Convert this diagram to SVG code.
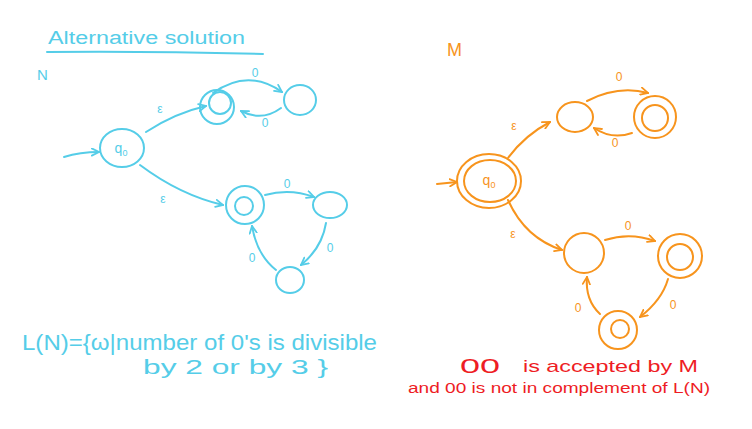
<svg xmlns="http://www.w3.org/2000/svg" width="752" height="429" viewBox="0 0 752 429">
<style>
.c{stroke:#55cde8;fill:none;stroke-width:2;stroke-linecap:round}
.o{stroke:#f7941d;fill:none;stroke-width:2;stroke-linecap:round}
.tc{fill:#55cde8;font-family:"Liberation Sans",sans-serif}
.to{fill:#f7941d;font-family:"Liberation Sans",sans-serif}
.tr{fill:#ee1c24;font-family:"Liberation Sans",sans-serif}
.lbl{font-size:12px;text-anchor:middle}
.q{font-size:14px;text-anchor:middle}
</style>
<defs>
<marker id="ac" viewBox="0 0 10 10" refX="9" refY="5" markerWidth="9" markerHeight="9" orient="auto" markerUnits="userSpaceOnUse"><path d="M1,1 L9,5 L1,9" fill="none" stroke="#55cde8" stroke-width="2" stroke-linecap="round"/></marker>
<marker id="ao" viewBox="0 0 10 10" refX="9" refY="5" markerWidth="9" markerHeight="9" orient="auto" markerUnits="userSpaceOnUse"><path d="M1,1 L9,5 L1,9" fill="none" stroke="#f7941d" stroke-width="2" stroke-linecap="round"/></marker>
</defs>
<rect width="752" height="429" fill="#ffffff"/>

<!-- Cyan: alternative solution N -->
<text class="tc" x="48" y="44" font-size="18" textLength="197" lengthAdjust="spacingAndGlyphs">Alternative solution</text>
<path class="c" d="M47,52 Q150,51 263,54"/>
<text class="tc" x="37" y="80" font-size="15">N</text>

<g id="N-q0"><ellipse class="c" cx="122" cy="148" rx="22" ry="19"/><text class="tc q" x="121" y="153">q<tspan font-size="9" dy="3">0</tspan></text></g>
<g id="N-a"><circle class="c" cx="217" cy="107" r="17"/><circle class="c" cx="220" cy="103" r="11"/></g>
<g id="N-b"><ellipse class="c" cx="300" cy="100" rx="16" ry="15"/></g>
<g id="N-c"><circle class="c" cx="245" cy="205" r="19"/><circle class="c" cx="244" cy="206" r="9"/></g>
<g id="N-d"><ellipse class="c" cx="330" cy="205" rx="17" ry="13"/></g>
<g id="N-e"><ellipse class="c" cx="290" cy="280" rx="14" ry="13"/></g>

<g id="N-connectors">
<path class="c" d="M64,157 Q80,152 99,152" marker-end="url(#ac)"/>
<path class="c" d="M146,132 Q175,113 206,106" marker-end="url(#ac)"/>
<path class="c" d="M213,93 Q248,68 282,92" marker-end="url(#ac)"/>
<path class="c" d="M281,108 Q262,122 241,111" marker-end="url(#ac)"/>
<path class="c" d="M140,165 Q180,195 223,205" marker-end="url(#ac)"/>
<path class="c" d="M265,195 Q290,188 314,197" marker-end="url(#ac)"/>
<path class="c" d="M326,223 Q322,248 301,265" marker-end="url(#ac)"/>
<path class="c" d="M276,270 Q257,255 252,226" marker-end="url(#ac)"/>
<text class="tc lbl" x="160" y="113">ε</text>
<text class="tc lbl" x="163" y="203">ε</text>
<text class="tc lbl" x="255" y="77">0</text>
<text class="tc lbl" x="265" y="127">0</text>
<text class="tc lbl" x="287" y="188">0</text>
<text class="tc lbl" x="330" y="252">0</text>
<text class="tc lbl" x="252" y="262">0</text>
</g>

<text class="tc" x="22" y="350" font-size="22" textLength="355" lengthAdjust="spacingAndGlyphs">L(N)={ω|number of 0's is divisible</text>
<text class="tc" x="143" y="374" font-size="20" textLength="185" lengthAdjust="spacingAndGlyphs">by 2 or by 3 }</text>

<!-- Orange: M -->
<text class="to" x="447" y="56" font-size="18">M</text>

<g id="M-q0"><ellipse class="o" cx="489" cy="181" rx="32" ry="27"/><ellipse class="o" cx="490" cy="181" rx="26" ry="21"/><text class="to q" x="489" y="185">q<tspan font-size="9" dy="3">0</tspan></text></g>
<g id="M-f"><ellipse class="o" cx="575" cy="117" rx="18" ry="15"/></g>
<g id="M-g"><circle class="o" cx="655" cy="117" r="21"/><circle class="o" cx="655" cy="118" r="13"/></g>
<g id="M-h"><circle class="o" cx="584" cy="253" r="20"/></g>
<g id="M-i"><circle class="o" cx="680" cy="256" r="22"/><circle class="o" cx="680" cy="257" r="13"/></g>
<g id="M-j"><circle class="o" cx="618" cy="330" r="19"/><circle class="o" cx="620" cy="329" r="9"/></g>

<g id="M-connectors">
<path class="o" d="M437,184 L457,182" marker-end="url(#ao)"/>
<path class="o" d="M508,158 Q525,135 550,122" marker-end="url(#ao)"/>
<path class="o" d="M587,101 Q618,85 648,93" marker-end="url(#ao)"/>
<path class="o" d="M632,133 Q612,140 594,128" marker-end="url(#ao)"/>
<path class="o" d="M508,200 Q525,238 562,250" marker-end="url(#ao)"/>
<path class="o" d="M605,240 Q630,232 655,241" marker-end="url(#ao)"/>
<path class="o" d="M668,279 Q662,300 640,317" marker-end="url(#ao)"/>
<path class="o" d="M600,314 Q585,300 587,277" marker-end="url(#ao)"/>
<text class="to lbl" x="514" y="130">ε</text>
<text class="to lbl" x="513" y="238">ε</text>
<text class="to lbl" x="619" y="81">0</text>
<text class="to lbl" x="615" y="147">0</text>
<text class="to lbl" x="628" y="230">0</text>
<text class="to lbl" x="673" y="309">0</text>
<text class="to lbl" x="578" y="312">0</text>
</g>

<!-- Red notes -->
<text class="tr" x="460" y="373" font-size="20" textLength="40" lengthAdjust="spacingAndGlyphs">00</text>
<text class="tr" x="523" y="372" font-size="17" textLength="175" lengthAdjust="spacingAndGlyphs">is accepted by M</text>
<text class="tr" x="408" y="393" font-size="14" textLength="302" lengthAdjust="spacingAndGlyphs">and 00 is not in complement of L(N)</text>
</svg>
